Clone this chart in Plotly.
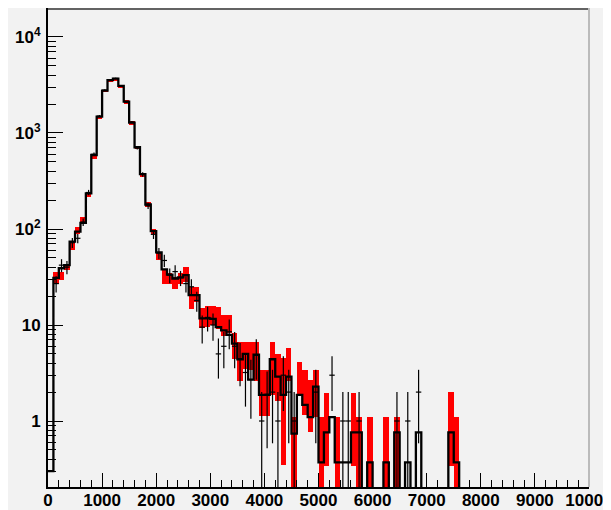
import plotly.graph_objects as go
import math

# ---------------- data (100 bins of width 100 from 0 to 10000) ----------------
bin_edges = [i * 100 for i in range(101)]
bin_centers = [i * 100 + 50 for i in range(100)]

mc_values = [
    0.3, 31, 39, 42, 74, 94, 116, 235, 590, 1480,
    2760, 3560, 3680, 3090, 2120, 1280, 710, 372, 180, 95,
    57, 38, 33.5, 30.5, 31.3, 33, 20.5, 20.5, 11.7, 11.7,
    11.6, 9.5, 8.8, 7.9, 6.4, 4.4, 5.0, 2.7, 4.9, 1.87,
    1.87, 4.4, 2.9, 1.87, 2.9, 0.74, 1.87, 1.47, 1.1, 2.28,
    0.37, 0.76, 1.1, 0.37, 0.37, 0.37, 0.76, 0.76, 0, 0.37,
    0, 0, 0.37, 0, 0.76, 0, 0.37, 0, 0.76, 0,
    0, 0, 0, 0, 0.76, 0.37, 0, 0, 0, 0,
    0, 0, 0, 0, 0, 0, 0, 0, 0, 0,
    0, 0, 0, 0, 0, 0, 0, 0, 0, 0,
]

# red error band: lower / upper edge per bin (0 lower = reaches below axis, 0 upper = no band)
band_low = [
    0, 27, 29.5, 37, 61, 88, 112, 215, 530, 1400,
    2650, 3420, 3550, 2950, 1990, 1210, 675, 350, 170, 89,
    47, 27, 27, 23.5, 27, 28, 14.6, 17.5, 9.2, 9.5,
    10, 9, 7.6, 8.2, 4.4, 2.6, 3.5, 3.4, 2.6, 1.13,
    1.13, 1.87, 1.6, 0.35, 2.6, 0, 1.8, 1.15, 0.77, 1.1,
    0, 0.34, 0, 0, 0, 0, 0.34, 0, 0, 0,
    0, 0, 0, 0, 0, 0, 0, 0, 0, 0,
    0, 0, 0, 0, 0.34, 0, 0, 0, 0, 0,
    0, 0, 0, 0, 0, 0, 0, 0, 0, 0,
    0, 0, 0, 0, 0, 0, 0, 0, 0, 0,
]
band_high = [
    0, 36, 36, 41.5, 71, 105, 133, 240, 600, 1510,
    2790, 3600, 3720, 3120, 2200, 1320, 730, 382, 190, 101,
    58, 37, 34.5, 32, 35, 40, 25, 25, 15, 15.7,
    15.7, 15.5, 12.7, 12.7, 8.2, 6.7, 6.7, 6.7, 6.7, 3.4,
    3.4, 6.7, 5.0, 4.5, 5.7, 1.1, 4.1, 3.4, 2.7, 3.4,
    1.1, 1.97, 0, 1.1, 0, 0, 1.97, 1.1, 0, 1.1,
    0, 0, 1.1, 0, 1.1, 0, 0, 0, 0, 0,
    0, 0, 0, 0, 1.99, 1.1, 0, 0, 0, 0,
    0, 0, 0, 0, 0, 0, 0, 0, 0, 0,
    0, 0, 0, 0, 0, 0, 0, 0, 0, 0,
]

data_values = [
    0, 27, 42, 40, 72, 80, 118, 240, 600, 1500,
    2800, 3550, 3700, 3100, 2100, 1300, 700, 370, 175, 88,
    56, 47, 33, 36, 31, 27, 25, 18, 9.5, 12,
    10, 5, 6, 8.5, 6, 4.4, 3.2, 2.7, 4.9, 1,
    1.9, 2, 1, 3, 2, 1, 0, 0, 0, 2,
    0, 0, 3, 0, 1, 1, 0, 1, 0, 0,
    0, 0, 0, 0, 1, 0, 1, 0, 2, 0,
    0, 0, 0, 0, 0, 0, 0, 0, 0, 0,
    0, 0, 0, 0, 0, 0, 0, 0, 0, 0,
    0, 0, 0, 0, 0, 0, 0, 0, 0, 0,
]

x_tick_vals = [0, 1000, 2000, 3000, 4000, 5000, 6000, 7000, 8000, 9000, 10000]
x_tick_text = ["0", "1000", "2000", "3000", "4000", "5000", "6000", "7000", "8000", "9000", "10000"]
y_tick_vals = [1, 10, 100, 1000, 10000]
y_tick_text = ["1", "10", "10<sup>2</sup>", "10<sup>3</sup>", "10<sup>4</sup>"]

# ---------------- derived plotting arrays ----------------
FLOOR = 1e-3  # display floor for empty bins on the log axis
BIN_W = 100

band_x, band_base, band_len = [], [], []
for c, lo, hi in zip(bin_centers, band_low, band_high):
    if hi > 0:
        b = max(lo, FLOOR)
        band_x.append(c)
        band_base.append(b)
        band_len.append(hi - b)

step_y = [max(v, FLOOR) for v in mc_values] + [max(mc_values[-1], FLOOR)]

dx, dy, de = [], [], []
for c, v in zip(bin_centers, data_values):
    if v > 0:
        dx.append(c)
        dy.append(v)
        de.append(math.sqrt(v))

BG = "#f2f2f2"
FONT = "Liberation Sans, Arial, sans-serif"

fig = go.Figure()
fig.add_trace(go.Bar(
    x=band_x, y=band_len, base=band_base, width=BIN_W,
    marker=dict(color="#ff0000", line=dict(width=0)),
    hoverinfo="skip",
))
fig.add_trace(go.Scatter(
    x=bin_edges, y=step_y, mode="lines", line_shape="hv",
    line=dict(color="black", width=2.3), hoverinfo="skip",
))
fig.add_trace(go.Scatter(
    x=dx, y=dy, mode="markers", marker=dict(size=1, color="black", opacity=0),
    error_y=dict(type="data", array=de, arrayminus=de, width=0, thickness=1.2, color="black"),
    error_x=dict(type="constant", value=BIN_W / 2, width=0, thickness=1.2, color="black"),
    hoverinfo="skip",
))

# page body has an 8px margin, so the figure is sized to end exactly at the window edge
fig.update_layout(
    width=603, height=502,
    margin=dict(l=40, r=22, t=0, b=23, autoexpand=False),
    paper_bgcolor=BG, plot_bgcolor=BG,
    showlegend=False, barmode="overlay", bargap=0,
    shapes=[
        dict(type="line", xref="paper", yref="paper", x0=0, x1=1, y0=0.998, y1=0.998,
             line=dict(color="#333333", width=1.5)),
        dict(type="line", xref="paper", yref="paper", x0=1, x1=1, y0=0, y1=1,
             line=dict(color="#bbbbbb", width=2)),
    ],
)
fig.update_xaxes(
    range=[0, 10000], tickmode="array", tickvals=x_tick_vals, ticktext=x_tick_text,
    ticks="inside", ticklen=14, tickwidth=1.3, tickcolor="black",
    minor=dict(ticks="inside", ticklen=7, tick0=0, dtick=200, tickcolor="black", tickwidth=1.2),
    showline=True, linecolor="black", linewidth=2, showgrid=False, zeroline=False,
    tickfont=dict(family=FONT, size=17, color="black", weight="bold"),
    ticklabelstandoff=-3, ticklabeloverflow="allow", automargin=False,
)
fig.update_yaxes(
    type="log", range=[-0.6875, 4.302], tickmode="array", tickvals=y_tick_vals, ticktext=y_tick_text,
    ticks="inside", ticklen=15, tickwidth=1.3, tickcolor="black",
    minor=dict(ticks="inside", ticklen=8, dtick="D1", tickcolor="black", tickwidth=1.2),
    showline=True, linecolor="black", linewidth=2, showgrid=False, zeroline=False,
    tickfont=dict(family=FONT, size=17, color="black", weight="bold"),
    ticklabelstandoff=2, automargin=False,
)

fig.write_html("out.html")
